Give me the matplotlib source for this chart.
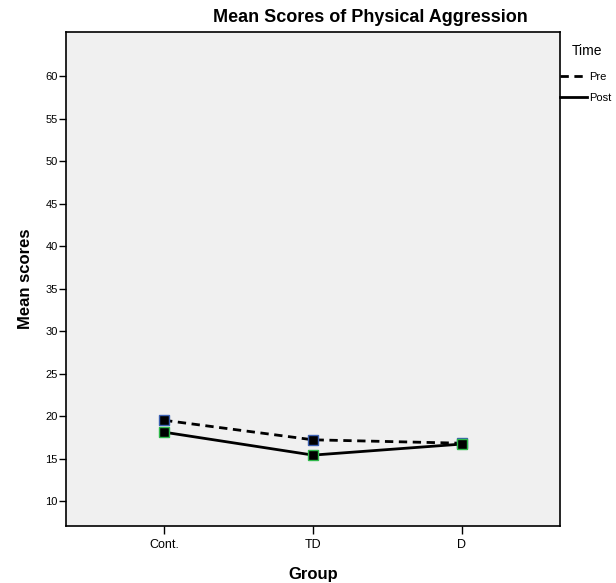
import matplotlib
matplotlib.use("Agg")
import matplotlib.pyplot as plt
from matplotlib.lines import Line2D

plt.rcParams['font.family'] = ['Liberation Sans', 'DejaVu Sans']

groups = ["Cont.", "TD", "D"]
pre = [19.5, 17.2, 16.8]
post = [18.1, 15.4, 16.7]
yticks = [10, 15, 20, 25, 30, 35, 40, 45, 50, 55, 60]

fig = plt.figure(figsize=(6.16, 5.83), dpi=100)
ax = fig.add_axes([66/616, 1-526/583, 494/616, 494/583])
ax.set_facecolor('#f0f0f0')

x = list(range(len(groups)))
ax.plot(x, pre, color='black', lw=2, ls=(0, (3, 2)), marker='s', ms=6.5,
        mfc='black', mec='#3a5fb0', mew=1.0, zorder=3)
ax.plot(x, post, color='black', lw=2, ls='-', marker='s', ms=6.5,
        mfc='black', mec='#2eb84a', mew=1.0, zorder=3)

ax.set_xlim(-0.658, 2.658)
ax.set_ylim(7.06, 65.18)
ax.set_xticks(x)
ax.set_xticklabels(groups, fontsize=9)
ax.set_yticks(yticks)
ax.set_yticklabels([str(v) for v in yticks], fontsize=8)
ax.tick_params(axis='y', direction='out', length=5, width=1, color='black', pad=1)
ax.tick_params(axis='x', direction='out', length=6, width=1, color='black', pad=3)
for s in ax.spines.values():
    s.set_linewidth(1.2)
    s.set_color('black')

ax.set_ylabel("Mean scores", fontsize=12, fontweight='bold', labelpad=9)
ax.set_xlabel("Group", fontsize=12, fontweight='bold', labelpad=12)
fig.text(370/616, 1-18/583, "Mean Scores of Physical Aggression", fontsize=13,
         fontweight='bold', ha='center', va='center')

handles = [Line2D([0], [0], color='black', lw=2, ls=(0, (3, 2))),
           Line2D([0], [0], color='black', lw=2, ls='-')]
leg = fig.legend(handles, ["Pre", "Post"], loc='upper left',
                 bbox_to_anchor=(560/616, 1-72/583), frameon=False,
                 fontsize=8, handlelength=2.4, handletextpad=0.2,
                 labelspacing=1.0, borderaxespad=0, borderpad=0)
fig.text(572/616, 1-51/583, "Time", fontsize=10, ha='left', va='center')

fig.savefig("out.png", dpi=100, facecolor='white')
